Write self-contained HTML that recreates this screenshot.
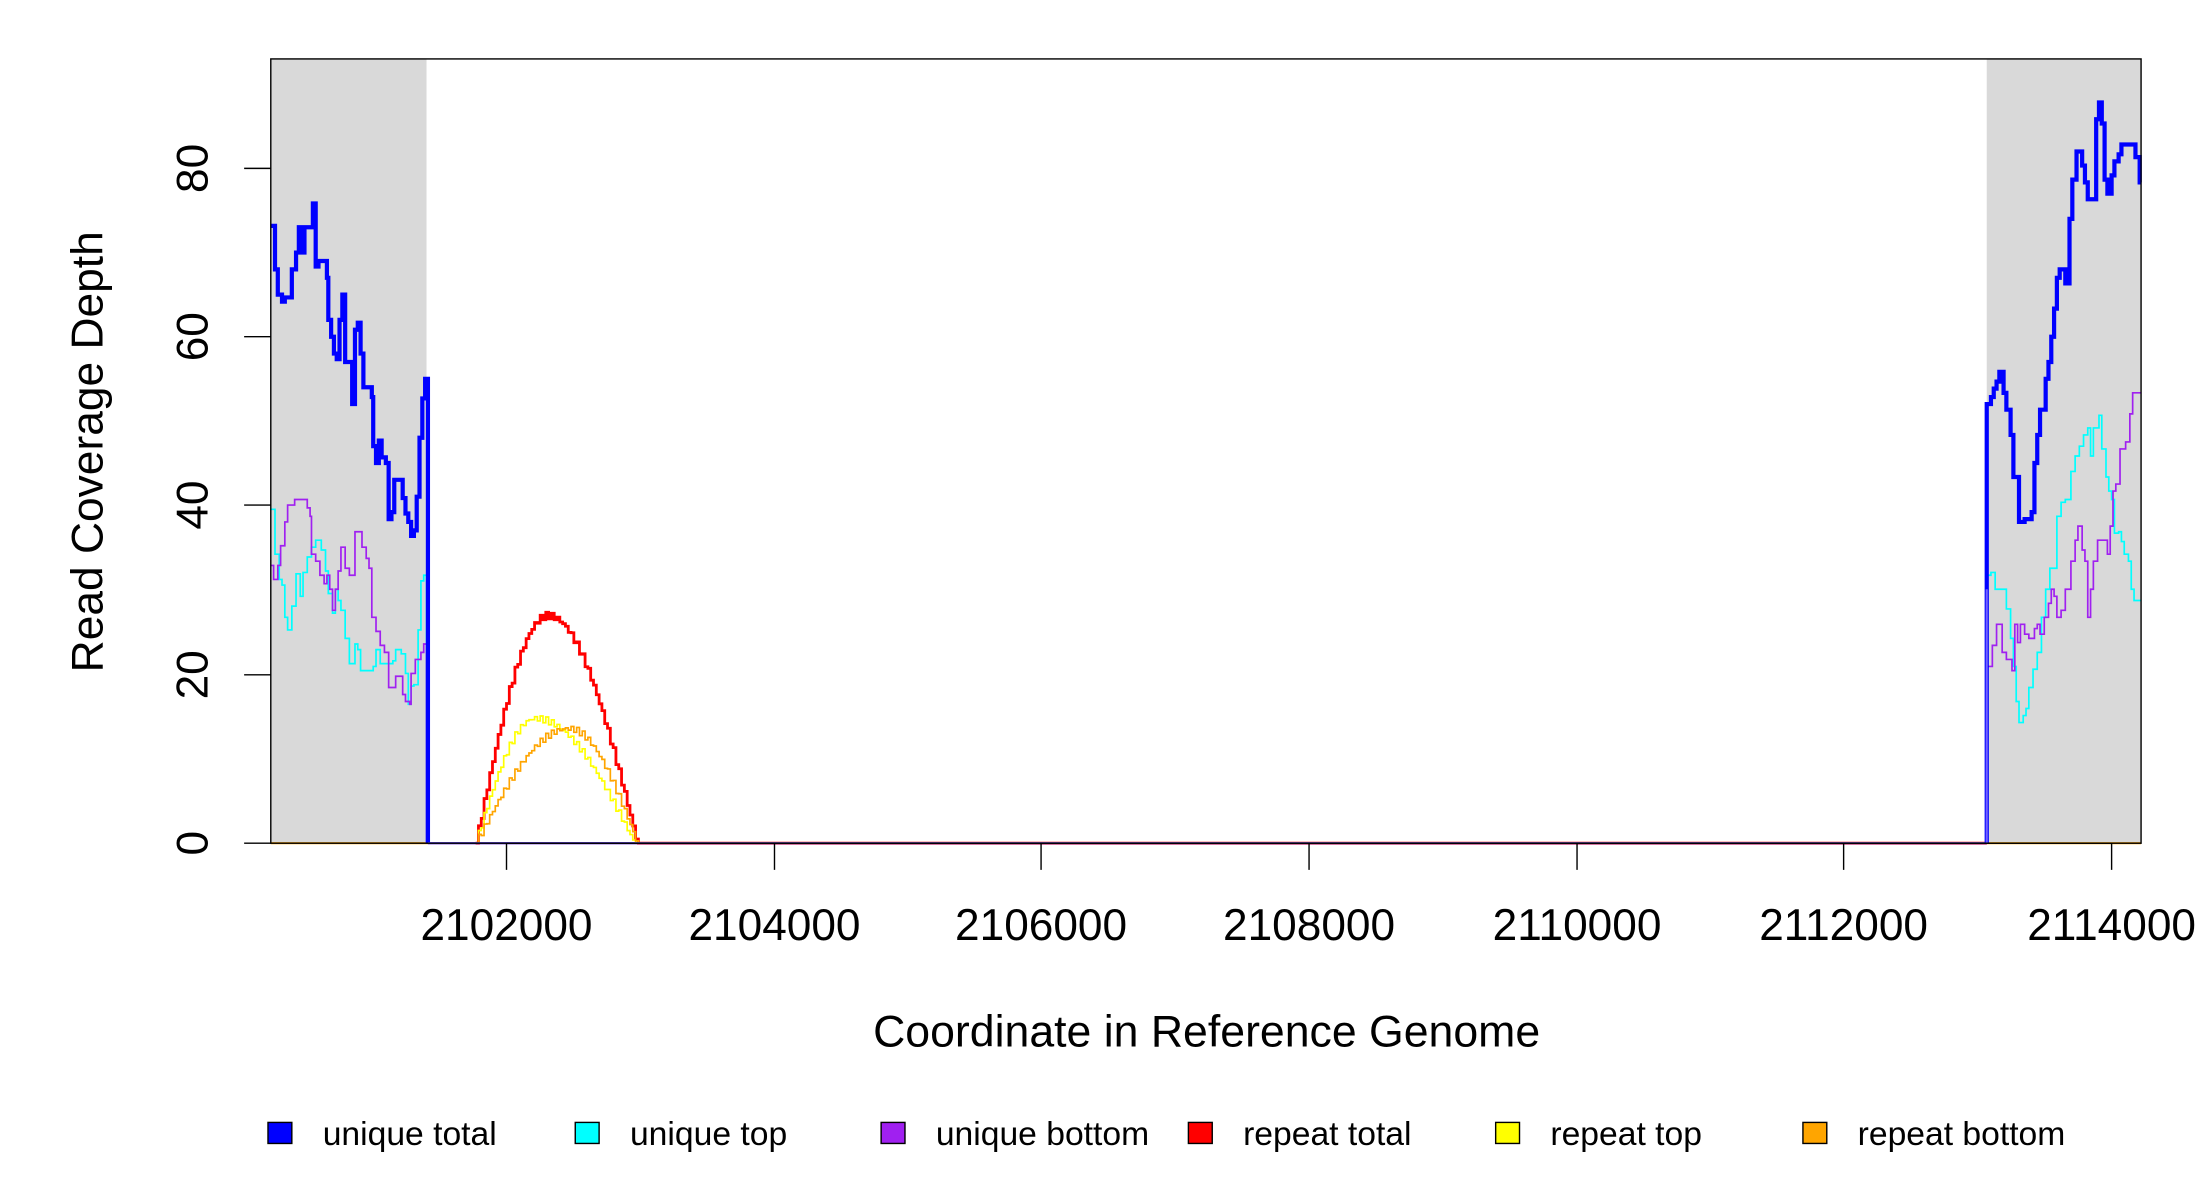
<!DOCTYPE html>
<html><head><meta charset="utf-8"><style>html,body{margin:0;padding:0;background:#fff}svg{display:block}</style></head>
<body>
<svg id="s" width="2200" height="1200" viewBox="0 0 1568 855.3" preserveAspectRatio="none" xmlns="http://www.w3.org/2000/svg" font-family="Liberation Sans, Arial, sans-serif">
<rect x="0" y="0" width="1568" height="856" fill="#fff"/>
<rect x="193" y="42" width="111" height="559" fill="#d9d9d9"/>
<rect x="1416" y="42" width="110" height="559" fill="#d9d9d9"/>
<g id="series"></g>
<rect x="193" y="42" width="1333" height="559" fill="none" stroke="#000" stroke-width="1"/>
<g stroke="#000" stroke-width="1">
<line x1="361" y1="601" x2="1505" y2="601"/>
<line x1="361" y1="601" x2="361" y2="620"/><line x1="552" y1="601" x2="552" y2="620"/><line x1="742" y1="601" x2="742" y2="620"/><line x1="933" y1="601" x2="933" y2="620"/><line x1="1124" y1="601" x2="1124" y2="620"/><line x1="1314" y1="601" x2="1314" y2="620"/><line x1="1505" y1="601" x2="1505" y2="620"/>
<line x1="174" y1="601" x2="193" y2="601"/><line x1="174" y1="481" x2="193" y2="481"/><line x1="174" y1="360" x2="193" y2="360"/><line x1="174" y1="240" x2="193" y2="240"/><line x1="174" y1="120" x2="193" y2="120"/>
</g>
<g font-size="31.5" text-anchor="middle" fill="#000">
<text x="361" y="670">2102000</text><text x="552" y="670">2104000</text><text x="742" y="670">2106000</text><text x="933" y="670">2108000</text><text x="1124" y="670">2110000</text><text x="1314" y="670">2112000</text><text x="1505" y="670">2114000</text>
<text transform="translate(148,601) rotate(-90)">0</text>
<text transform="translate(148,481) rotate(-90)">20</text>
<text transform="translate(148,360) rotate(-90)">40</text>
<text transform="translate(148,240) rotate(-90)">60</text>
<text transform="translate(148,120) rotate(-90)">80</text>
<text x="860" y="746" font-size="31.8">Coordinate in Reference Genome</text>
<text transform="translate(73,322) rotate(-90)" font-size="31.6">Read Coverage Depth</text>
</g>
<g font-size="24" fill="#000">
<rect x="191" y="800" width="17" height="15" fill="#0000ff" stroke="#000"/><text x="230" y="816">unique total</text>
<rect x="410" y="800" width="17" height="15" fill="#00ffff" stroke="#000"/><text x="449" y="816">unique top</text>
<rect x="628" y="800" width="17" height="15" fill="#a020f0" stroke="#000"/><text x="667" y="816">unique bottom</text>
<rect x="847" y="800" width="17" height="15" fill="#ff0000" stroke="#000"/><text x="886" y="816">repeat total</text>
<rect x="1066" y="800" width="17" height="15" fill="#ffff00" stroke="#000"/><text x="1105" y="816">repeat top</text>
<rect x="1285" y="800" width="17" height="15" fill="#ffa500" stroke="#000"/><text x="1324" y="816">repeat bottom</text>
</g>
</svg>
<script>
function step(a,endx){var d="";for(var i=0;i<a.length;i+=2){var x=a[i],y=a[i+1];if(i==0)d+="M"+x+" "+y;else d+="H"+x+"V"+y;}d+="H"+endx;return d;}
function P(d,c,w){return '<path d="'+d+'" fill="none" stroke="'+c+'" stroke-width="'+w+'"/>';}
var bl=[193,161,196,192,198,210,201,215,203,212,206,212,208,192,211,180,213,162,215,180,217,162,222,162,223,145,225,190,227,186,231,186,233,198,234,228,236,240,238,252,240,256,242,228,244,210,246,258,250,258,251,288,253,235,255,230,257,252,259,276,263,276,265,283,266,318,268,330,270,314,272,326,275,330,277,370,279,365,281,342,285,342,287,355,289,366,291,372,293,382,295,378,297,354,299,312,301,284,303,270];
var cl=[193,363,196,395,199,413,201,417,203,440,205,449,208,432,211,409,214,425,216,408,219,397,222,390,225,385,229,392,232,407,234,423,237,437,239,420,241,428,243,435,246,455,249,473,253,459,255,463,257,478,262,478,266,475,268,463,271,473,276,473,280,471,282,463,286,466,289,480,291,502,293,489,295,488,298,449,300,414,302,410];
var pl=[193,403,195,413,198,403,200,389,203,372,205,360,210,356,216,356,219,362,221,368,222,395,225,400,228,410,231,416,233,410,235,420,237,435,239,420,241,407,243,390,246,405,249,410,253,379,256,379,258,390,261,398,263,405,265,440,268,450,271,460,274,465,277,490,280,490,282,482,285,482,287,495,289,500,292,502,293,480,296,470,300,465,302,459];
var br=[1417,288,1419,283,1421,277,1423,272,1425,265,1428,280,1430,292,1433,310,1435,340,1437,340,1439,372,1443,370,1448,365,1450,330,1452,310,1454,292,1458,270,1460,258,1462,240,1464,220,1466,198,1468,192,1472,202,1475,156,1477,128,1480,108,1484,118,1486,130,1488,142,1492,142,1494,85,1496,73,1498,88,1500,128,1502,138,1505,125,1507,115,1510,110,1512,103,1520,103,1522,112,1524,112,1525,130];
var cr=[1417,410,1419,408,1422,420,1428,420,1430,434,1433,455,1435,475,1437,500,1439,515,1442,510,1444,505,1446,490,1449,477,1452,465,1455,440,1458,420,1461,405,1466,368,1469,358,1472,356,1476,336,1479,325,1482,318,1485,310,1488,305,1490,325,1492,305,1496,296,1498,320,1501,340,1503,350,1505,356,1507,380,1510,379,1512,386,1514,395,1517,400,1519,420,1521,428,1524,428];
var pr=[1417,475,1420,460,1423,445,1425,445,1427,465,1430,470,1432,470,1434,478,1436,445,1438,458,1440,445,1443,452,1446,455,1450,448,1452,445,1454,452,1457,440,1460,430,1462,420,1464,425,1466,440,1469,435,1472,420,1476,400,1479,385,1481,375,1484,392,1486,400,1488,440,1490,420,1492,400,1495,385,1500,385,1502,395,1504,375,1506,350,1508,345,1511,320,1515,315,1518,295,1520,280,1523,280,1525,280];
function hump(x0,x1,xp,h){var a=[];for(var x=x0;x<=x1;x+=2){var t=x<xp?(x-x0)/(xp-x0):(x1-x)/(x1-xp);var v=h*Math.sin(Math.PI/2*Math.max(0,t));v+= (Math.sin(x*1.7)*0.4);a.push(x,601-Math.max(0,v)*6.01);}a.push(x1+1,601);return a;}
var h="";
h+=P("M193 601H1526","#ffa500",1.5);
h+=P("M305 601H1416","#a020f0",1.5);
h+=P(step(hump(339,454,390,27),1416),"#ff0000",2);
h+=P(step(hump(339,452,381,14.8),1416),"#ffff00",1.2);
h+=P(step(hump(339,454,405,13.6),1416),"#ffa500",1.2);
h+=P(step(cl,304)+"V601","#00ffff",1.2);
h+=P(step(pl,304)+"V601","#a020f0",1.2);
h+=P(step(bl,304)+"H305V601","#0000ff",3);
h+=P("M305 601H1416","#5555ff",1.5);
h+=P("M1416 601V410"+step(cr,1526).replace(/^M[^H]*/,"H1417V410"),"#00ffff",1.2);
h+=P("M1416 601V475"+step(pr,1526).replace(/^M[^H]*/,"H1417V475"),"#a020f0",1.2);
h+=P("M1416 601V288"+step(br,1526).replace(/^M[^H]*/,"H1417V288"),"#0000ff",3);
h+=P("M1416 601V420","#7060ff",1.5);
document.getElementById("series").innerHTML=h;
</script>
</body></html>
